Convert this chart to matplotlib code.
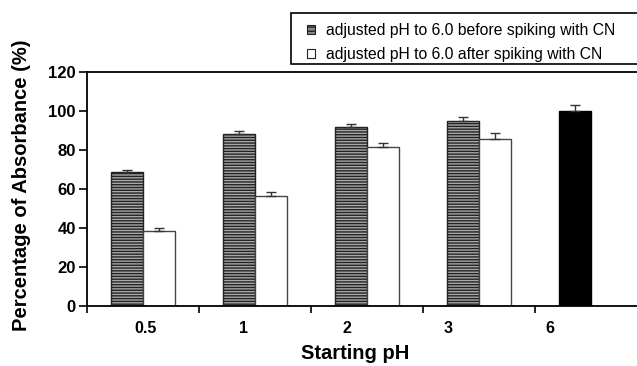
import matplotlib
matplotlib.use("Agg")
import matplotlib.pyplot as plt
from matplotlib.patches import Rectangle, Patch
import numpy as np

plt.rcParams['font.family'] = ['Liberation Sans', 'DejaVu Sans']
plt.rcParams['hatch.linewidth'] = 1.0

categories = ['0.5', '1', '2', '3', '6']
before = [68.6, 88.4, 91.8, 94.7]
before_err = [1.3, 1.5, 1.7, 2.4]
after = [38.3, 56.2, 81.5, 85.8]
after_err = [1.9, 2.4, 2.1, 3.1]
control = [100.2]
control_err = [3.0]
legend_labels = ['adjusted pH to 6.0 before spiking with CN',
                 'adjusted pH to 6.0 after spiking with CN']

W, H = 637, 366
fig = plt.figure(figsize=(W / 100, H / 100), dpi=100)
# axes extends beyond the right edge of the figure
ax_left, ax_right, ax_top, ax_bot = 87, 647, 72, 306
ax = fig.add_axes([ax_left / W, 1 - ax_bot / H, (ax_right - ax_left) / W, (ax_bot - ax_top) / H])

bw = 0.29
x = np.arange(len(before))
ekw = dict(ecolor='#333333', elinewidth=1.0, capthick=1.0)
ax.bar(x - bw / 2, before, bw, facecolor='#a8a8a8', edgecolor='#222222', hatch='------',
       linewidth=1.0, zorder=2)
ax.errorbar(x - bw / 2, before, yerr=[np.zeros(len(before)), before_err], fmt='none',
            capsize=3.6, zorder=3, **ekw)
ax.bar(x + bw / 2, after, bw, facecolor='white', edgecolor='#444444', linewidth=1.0, zorder=2)
ax.errorbar(x + bw / 2, after, yerr=[np.zeros(len(after)), after_err], fmt='none',
            capsize=3.6, zorder=3, **ekw)
xc = np.array([len(before)])
ax.bar(xc - bw / 2, control, bw, facecolor='black', edgecolor='black', linewidth=1.0, zorder=2)
ax.errorbar(xc - bw / 2, control, yerr=[np.zeros(1), control_err], fmt='none',
            capsize=3.6, zorder=3, **ekw)

ax.set_xlim(-0.5, len(categories) - 0.5)
ax.set_ylim(0, 120)
ax.set_yticks(np.arange(0, 121, 20))
ax.set_xticks(np.arange(-0.5, len(categories) - 0.5, 1.0))
ax.set_xticklabels([])
label_pos = [0.02, 0.9, 1.82, 2.72, 3.63]
ax.set_xticks(label_pos, minor=True)
ax.set_xticklabels(categories, minor=True, fontsize=11.5, fontweight='bold')
ax.tick_params(axis='x', which='minor', length=0, pad=11)
ax.tick_params(axis='x', which='major', direction='out', length=5, width=1.2)
ax.tick_params(axis='y', direction='out', length=6, width=1.2, labelsize=12, pad=2)
for lab in ax.get_yticklabels():
    lab.set_fontweight('bold')
for s in ['left', 'bottom', 'top', 'right']:
    ax.spines[s].set_linewidth(1.3)
ax.spines['right'].set_visible(False)

ax.set_xlabel('Starting pH', fontsize=14.5, fontweight='bold')
ax.xaxis.set_label_coords((355 - ax_left) / (ax_right - ax_left), -0.163)
ax.set_ylabel('Percentage of Absorbance (%)', fontsize=14.5, fontweight='bold')
ax.yaxis.set_label_coords((31 - ax_left) / (ax_right - ax_left), 0.515)

# legend box extending past right edge
fig.patches.append(Rectangle((291 / W, 1 - 64 / H), 400 / W, (64 - 12.7) / H,
                             transform=fig.transFigure, facecolor='white',
                             edgecolor='black', linewidth=1.2))
handles = [Patch(facecolor='#888888', edgecolor='#222222', hatch='----', linewidth=0.8),
           Patch(facecolor='white', edgecolor='#222222', linewidth=0.8)]
fig.legend(handles, legend_labels, loc='upper left', bbox_to_anchor=(296 / W, 1 - 12 / H),
           frameon=False, fontsize=11.3, handlelength=0.5, handleheight=0.5,
           handletextpad=0.7, labelspacing=0.6, borderpad=0.2)

fig.savefig('out.png', dpi=100)
